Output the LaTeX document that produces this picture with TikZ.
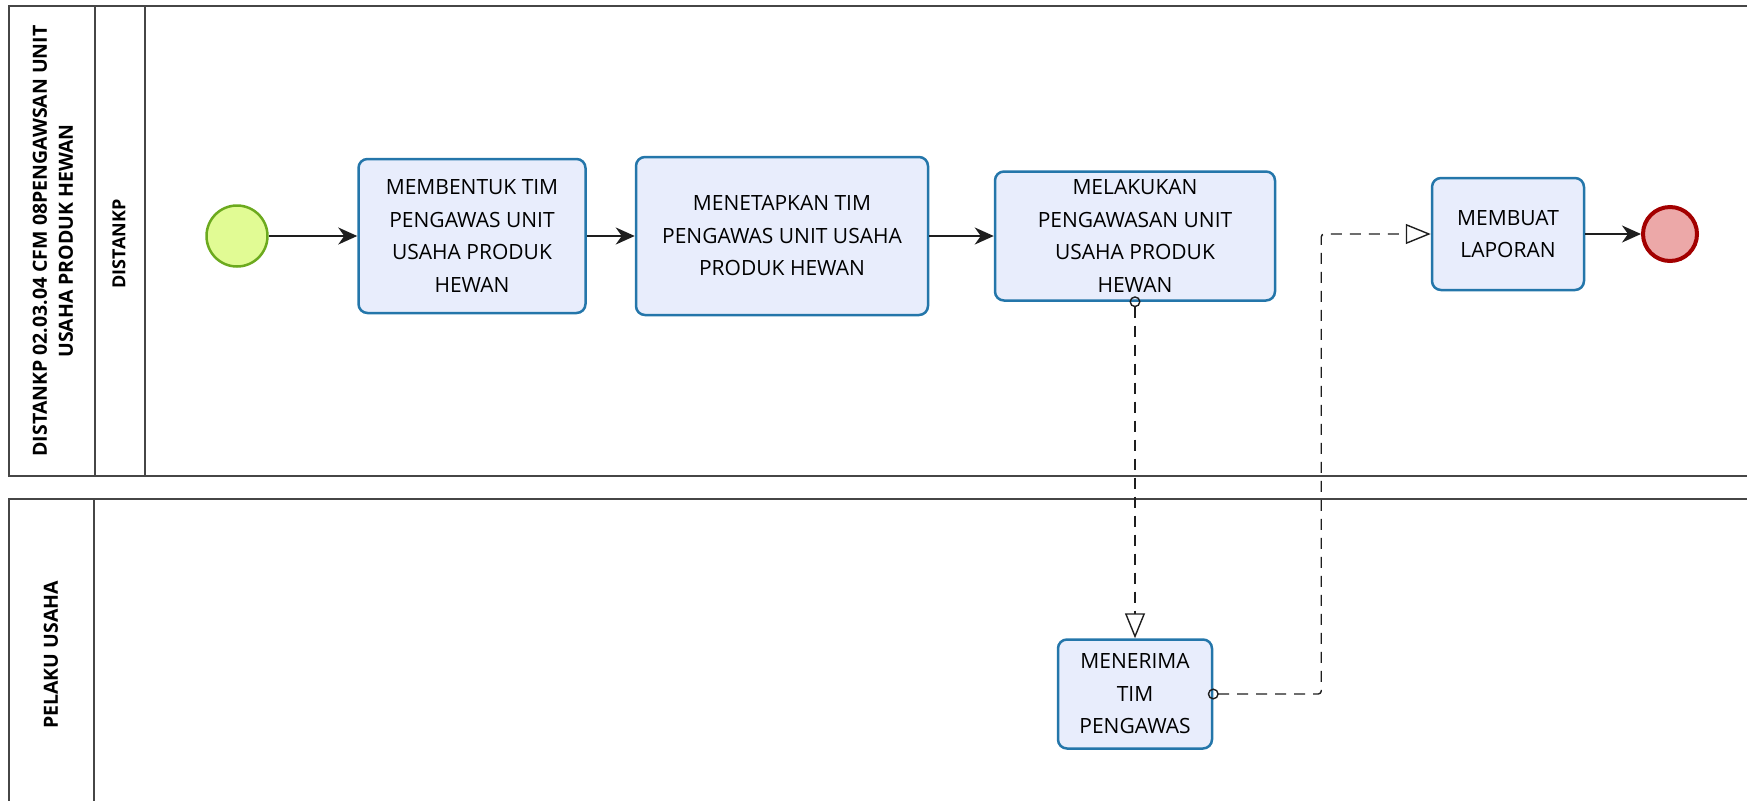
\documentclass[tikz,border=0pt]{standalone}
\usepackage{fontspec}
\setmainfont{Open Sans}
\usetikzlibrary{arrows.meta}
\definecolor{taskfill}{RGB}{232,237,252}
\definecolor{taskline}{RGB}{36,118,170}
\definecolor{startfill}{RGB}{225,251,148}
\definecolor{startline}{RGB}{108,170,30}
\definecolor{endfill}{RGB}{236,168,168}
\definecolor{endline}{RGB}{163,0,0}
\definecolor{poolline}{RGB}{70,70,70}
\definecolor{flowline}{RGB}{30,30,30}
\tikzset{
  taskbox/.style={draw=taskline,fill=taskfill,line width=2.5pt,rounded corners=9pt,
    align=center,inner sep=0pt,font=\fontsize{21}{32.5}\selectfont},
  startev/.style={circle,draw=startline,fill=startfill,line width=2.5pt,minimum size=61pt,inner sep=0pt},
  endev/.style={circle,draw=endline,fill=endfill,line width=4pt,minimum size=54pt,inner sep=0pt},
  seqflow/.style={draw=flowline,line width=1.8pt,-{Stealth[length=19pt,width=17pt,inset=6pt]}},
  msgflow/.style={draw=flowline,line width=1.4pt,dash pattern=on 11pt off 8pt,rounded corners=3pt,
    {Circle[open,length=11pt,width=11pt]}-{Triangle[open,length=25pt,width=20pt]},shorten <=-5.5pt},
  lanelabel/.style={rotate=90,align=center,font=\bfseries\fontsize{19.5}{26}\selectfont}
}
\begin{document}
\begin{tikzpicture}[x=1pt,y=-1pt]
  \useasboundingbox (0,0) rectangle (1747,801);
  % pools and lanes
  \draw[poolline,line width=1.5pt] (1747,6) -- (9,6) -- (9,476) -- (1747,476);
  \draw[poolline,line width=1.5pt] (95,6) -- (95,476);
  \draw[poolline,line width=1.2pt] (145,6) -- (145,476);
  \draw[poolline,line width=2pt] (1747,499) -- (9,499) -- (9,801);
  \draw[poolline,line width=1.2pt] (94,499) -- (94,801);
  \node[lanelabel] (poolhead) at (53,241) {DISTANKP 02.03.04 CFM 08PENGAWSAN UNIT\\USAHA PRODUK HEWAN};
  \node[lanelabel,font=\bfseries\fontsize{18}{26}\selectfont] (lanehead) at (119,244) {DISTANKP};
  \node[lanelabel] (pelaku) at (51,655) {PELAKU USAHA};

  % events and tasks
  \node[startev] (start) at (237,236) {};
  \node[taskbox,minimum width=227pt,minimum height=154pt] (bentuk) at (472,236)
    {MEMBENTUK TIM\\PENGAWAS UNIT\\USAHA PRODUK\\HEWAN};
  \node[taskbox,minimum width=292pt,minimum height=158pt] (tetap) at (782,236)
    {MENETAPKAN TIM\\PENGAWAS UNIT USAHA\\PRODUK HEWAN};
  \node[taskbox,minimum width=280pt,minimum height=129pt] (awas) at (1135,236)
    {MELAKUKAN\\PENGAWASAN UNIT\\USAHA PRODUK\\HEWAN};
  \node[taskbox,minimum width=152pt,minimum height=112pt] (lapor) at (1508,234)
    {MEMBUAT\\LAPORAN};
  \node[endev] (finish) at (1670,234) {};
  \node[taskbox,minimum width=154pt,minimum height=109pt] (terima) at (1135,694)
    {MENERIMA\\TIM\\PENGAWAS};

  % sequence flows
  \draw[seqflow] (start) -- (bentuk);
  \draw[seqflow] (bentuk) -- (tetap);
  \draw[seqflow] (tetap) -- (awas);
  \draw[seqflow] (lapor) -- (finish);

  % message flows
  \draw[msgflow] (awas.south) -- (terima.north);
  \draw[msgflow] (terima.east) -- ++(108,0) |- (lapor.west);
\end{tikzpicture}
\end{document}
